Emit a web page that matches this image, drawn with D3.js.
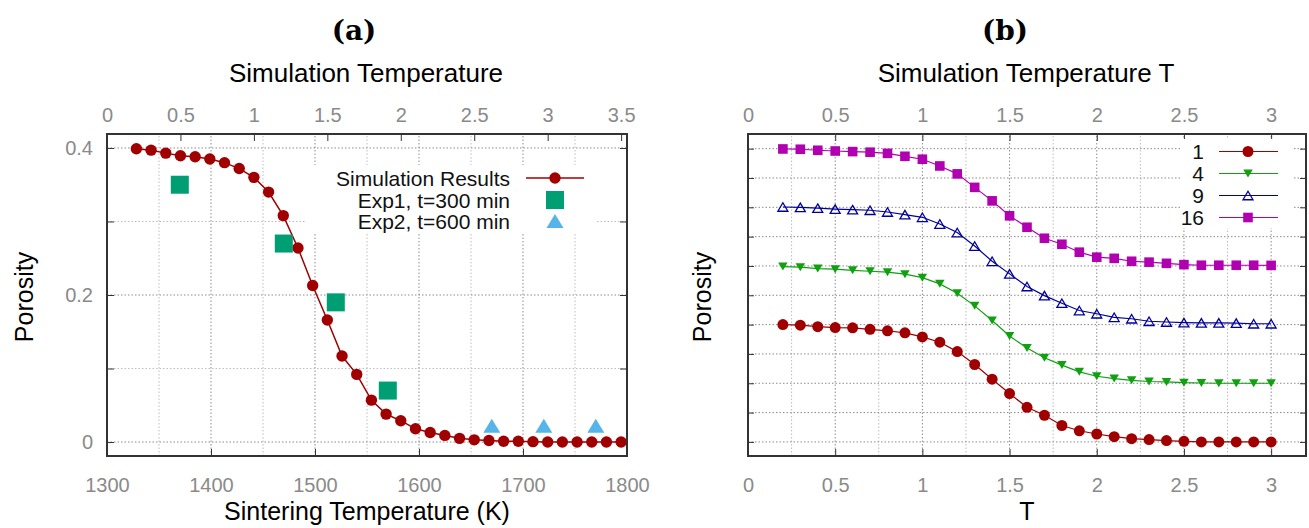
<!DOCTYPE html>
<html>
<head>
<meta charset="utf-8">
<script src="https://cdn.jsdelivr.net/npm/d3@7/dist/d3.min.js"></script>
<style>
  body { margin: 0; background: #fff; }
  text { font-family: "Liberation Sans", Arial, sans-serif; }
</style>
</head>
<body>
<svg id="chart" width="1309" height="528"></svg>
<script>
// ---- panel (a) data ----
var simTemp = [0.2,0.3,0.4,0.5,0.6,0.7,0.8,0.9,1.0,1.1,1.2,1.3,1.4,1.5,1.6,1.7,1.8,1.9,2.0,2.1,2.2,2.3,2.4,2.5,2.6,2.7,2.8,2.9,3.0,3.1,3.2,3.3,3.4,3.5];
var simPorosity = [0.399,0.397,0.393,0.3895,0.388,0.385,0.380,0.372,0.360,0.340,0.308,0.264,0.213,0.166,0.117,0.092,0.057,0.038,0.029,0.018,0.013,0.009,0.005,0.003,0.002,0.001,0.001,0.0005,0,0,0,0,0,0];
var exp1Temp = [1370,1470,1520,1570];
var exp1Porosity = [0.35,0.27,0.19,0.07];
var exp2Temp = [1670,1720,1770];
var exp2Porosity = [0.022,0.022,0.022];
var legendA = ["Simulation Results","Exp1, t=300 min","Exp2, t=600 min"];
var ticksK = [1300,1400,1500,1600,1700,1800];
var ticksSimA = [0,0.5,1,1.5,2,2.5,3,3.5];
var ticksPorA = [0,0.2,0.4];

// ---- panel (b) data ----
var tempB = [0.2,0.3,0.4,0.5,0.6,0.7,0.8,0.9,1.0,1.1,1.2,1.3,1.4,1.5,1.6,1.7,1.8,1.9,2.0,2.1,2.2,2.3,2.4,2.5,2.6,2.7,2.8,2.9,3.0];
var por1  = [0.400,0.398,0.393,0.390,0.389,0.384,0.379,0.372,0.358,0.340,0.308,0.264,0.214,0.165,0.118,0.091,0.056,0.038,0.027,0.018,0.011,0.008,0.0045,0.002,0,0,0,0,0];
var por4  = [0.398,0.396,0.391,0.389,0.385,0.382,0.379,0.372,0.360,0.339,0.307,0.264,0.214,0.161,0.120,0.087,0.062,0.039,0.024,0.016,0.010,0.006,0.0045,0.002,0.001,0,0,0,0];
var por9  = [0.401,0.400,0.397,0.394,0.392,0.390,0.384,0.375,0.366,0.343,0.314,0.268,0.216,0.173,0.130,0.099,0.073,0.048,0.037,0.025,0.020,0.0115,0.009,0.007,0.006,0.006,0.005,0.003,0.003];
var por16 = [0.399,0.398,0.3945,0.392,0.390,0.388,0.384,0.374,0.364,0.341,0.314,0.268,0.222,0.171,0.132,0.0945,0.074,0.047,0.030,0.026,0.016,0.013,0.009,0.0045,0.0025,0.0025,0.0025,0.0025,0.002];
var seriesNames = ["1","4","9","16"];
var seriesShift = [0,0.2,0.4,0.6];
var ticksTB = [0,0.5,1,1.5,2,2.5,3];

var svg = d3.select("#chart");
var tickGray = "#8a8a8a";
var tickFont = "20px";

function triPath(w, h, down) {
  // triangle centred on its bounding box
  var s = down ? -1 : 1;
  return "M0," + (-s*h/2) + "L" + (w/2) + "," + (s*h/2) + "L" + (-w/2) + "," + (s*h/2) + "Z";
}

function frameAndGrid(g, x, y, xGrid, yGrid, majorX, majorY) {
  var x0 = x.range()[0], x1 = x.range()[1], y0 = y.range()[0], y1 = y.range()[1];
  g.selectAll(".gx").data(xGrid).enter().append("line")
    .attr("x1", d => x(d)).attr("x2", d => x(d)).attr("y1", y0).attr("y2", y1)
    .attr("stroke", d => majorX(d) ? "#8c8c8c" : "#bdbdbd").attr("stroke-width", 1)
    .attr("stroke-dasharray", "1.5,2");
  g.selectAll(".gy").data(yGrid).enter().append("line")
    .attr("y1", d => y(d)).attr("y2", d => y(d)).attr("x1", x0).attr("x2", x1)
    .attr("stroke", d => majorY(d) ? "#8c8c8c" : "#bdbdbd").attr("stroke-width", 1)
    .attr("stroke-dasharray", "1.5,2");
}

function drawFrame(g, x, y) {
  var x0 = x.range()[0], x1 = x.range()[1], y0 = y.range()[0], y1 = y.range()[1];
  g.append("rect").attr("x", x0).attr("y", y1).attr("width", x1 - x0).attr("height", y0 - y1)
    .attr("fill", "none").attr("stroke", "#333").attr("stroke-width", 2);
}

function styleAxis(s) {
  s.select(".domain").remove();
  s.selectAll("text").attr("fill", tickGray).style("font-size", tickFont);
  s.selectAll("line").attr("stroke", "#333");
}

// ================= panel (a) =================
var ga = svg.append("g");
var xa = d3.scaleLinear().domain([1300, 1800]).range([107, 627]);
var xaTop = d3.scaleLinear().domain([0, 3.54]).range([107, 627]);
var ya = d3.scaleLinear().domain([-0.019, 0.419]).range([456, 134]);

frameAndGrid(ga, xa, ya, d3.range(1300, 1801, 50), [0, 0.1, 0.2, 0.3, 0.4],
  d => d % 100 === 0, d => Math.round(d * 10) % 2 === 0);

// inward ticks
ga.append("g").attr("transform", "translate(0,456)")
  .call(d3.axisBottom(xa).tickValues(ticksK).tickSizeInner(-7).tickSizeOuter(0).tickFormat(d3.format("d")).tickPadding(22))
  .call(styleAxis);
ga.append("g").attr("transform", "translate(0,134)")
  .call(d3.axisTop(xaTop).tickValues(ticksSimA).tickSizeInner(-7).tickSizeOuter(0).tickFormat(d3.format("")).tickPadding(12))
  .call(styleAxis);
ga.append("g").attr("transform", "translate(107,0)")
  .call(d3.axisLeft(ya).tickValues([0, 0.1, 0.2, 0.3, 0.4]).tickSizeInner(-7).tickSizeOuter(0)
    .tickFormat(d => ticksPorA.indexOf(d) >= 0 ? d3.format("")(d) : "").tickPadding(14))
  .call(styleAxis);
ga.append("g").attr("transform", "translate(627,0)")
  .call(d3.axisRight(ya).tickValues([0, 0.1, 0.2, 0.3, 0.4]).tickSizeInner(-7).tickSizeOuter(0).tickFormat(""))
  .call(styleAxis);

// legend box (opaque)
ga.append("rect").attr("x", 305).attr("y", 165).attr("width", 292).attr("height", 68).attr("fill", "#fff");

var simData = simTemp.map((t, i) => [t, simPorosity[i]]);
ga.append("path").datum(simData)
  .attr("fill", "none").attr("stroke", "#a00000").attr("stroke-width", 1.5)
  .attr("d", d3.line().x(d => xaTop(d[0])).y(d => ya(d[1])));
ga.selectAll(".sim").data(simData).enter().append("circle")
  .attr("cx", d => xaTop(d[0])).attr("cy", d => ya(d[1])).attr("r", 5.7).attr("fill", "#a00000");

ga.selectAll(".e1").data(exp1Temp).enter().append("rect")
  .attr("x", (d) => xa(d) - 9).attr("y", (d, i) => ya(exp1Porosity[i]) - 9)
  .attr("width", 18).attr("height", 18).attr("fill", "#009e73");
ga.selectAll(".e2").data(exp2Temp).enter().append("path")
  .attr("transform", (d, i) => "translate(" + xa(d) + "," + ya(exp2Porosity[i]) + ")")
  .attr("d", triPath(17, 14, false)).attr("fill", "#56b4e9");

// legend (a)
var legA = ga.append("g");
var legAy = [178, 200, 221];
legA.selectAll("text").data(legendA).enter().append("text")
  .attr("x", 510).attr("y", (d, i) => legAy[i]).attr("text-anchor", "end")
  .attr("dominant-baseline", "central").style("font-size", "21px").attr("fill", "#111").text(d => d);
legA.append("line").attr("x1", 526).attr("x2", 584).attr("y1", legAy[0]).attr("y2", legAy[0])
  .attr("stroke", "#a00000").attr("stroke-width", 1.5);
legA.append("circle").attr("cx", 555).attr("cy", legAy[0]).attr("r", 5.7).attr("fill", "#a00000");
legA.append("rect").attr("x", 546).attr("y", legAy[1] - 9).attr("width", 18).attr("height", 18).attr("fill", "#009e73");
legA.append("path").attr("transform", "translate(555," + legAy[2] + ")").attr("d", triPath(17, 14, false)).attr("fill", "#56b4e9");

drawFrame(ga, xa, ya);

// labels (a)
svg.append("text").attr("x", 354).attr("y", 30).attr("text-anchor", "middle").attr("dominant-baseline", "central")
  .style("font-family", "'DejaVu Serif', serif").style("font-weight", "bold").style("font-size", "28px").text("(a)");
svg.append("text").attr("x", 366).attr("y", 73).attr("text-anchor", "middle").attr("dominant-baseline", "central")
  .style("font-size", "26px").text("Simulation Temperature");
svg.append("text").attr("x", 367).attr("y", 511).attr("text-anchor", "middle").attr("dominant-baseline", "central")
  .style("font-size", "25px").text("Sintering Temperature (K)");
svg.append("text").attr("transform", "translate(24,297) rotate(-90)").attr("text-anchor", "middle")
  .attr("dominant-baseline", "central").style("font-size", "25px").text("Porosity");

// ================= panel (b) =================
var gb = svg.append("g");
var xb = d3.scaleLinear().domain([0, 3.2]).range([748, 1306]);
var yb = d3.scaleLinear().domain([-0.048, 1.05]).range([456, 134]);
var gridYB = [0,0.1,0.2,0.3,0.4,0.5,0.6,0.7,0.8,0.9,1.0];

frameAndGrid(gb, xb, yb, [0.25,0.5,0.75,1,1.25,1.5,1.75,2,2.25,2.5,2.75,3], gridYB,
  d => Math.round(d * 4) % 2 === 0, d => true);

gb.append("g").attr("transform", "translate(0,456)")
  .call(d3.axisBottom(xb).tickValues(ticksTB).tickSizeInner(-7).tickSizeOuter(0).tickFormat(d3.format("")).tickPadding(22))
  .call(styleAxis);
gb.append("g").attr("transform", "translate(0,134)")
  .call(d3.axisTop(xb).tickValues(ticksTB).tickSizeInner(-7).tickSizeOuter(0).tickFormat(d3.format("")).tickPadding(12))
  .call(styleAxis);
gb.append("g").attr("transform", "translate(748,0)")
  .call(d3.axisLeft(yb).tickValues(gridYB).tickSizeInner(-6).tickSizeOuter(0).tickFormat(""))
  .call(styleAxis);
gb.append("g").attr("transform", "translate(1306,0)")
  .call(d3.axisRight(yb).tickValues(gridYB).tickSizeInner(-6).tickSizeOuter(0).tickFormat(""))
  .call(styleAxis);

// legend box (opaque)
gb.append("rect").attr("x", 1180).attr("y", 139).attr("width", 112).attr("height", 89).attr("fill", "#fff");

var seriesB = [por1, por4, por9, por16];
var colorsB = ["#a00000", "#10a010", "#00009a", "#b000b0"];

function drawMarker(sel, k) {
  if (k === 0) {
    sel.append("circle").attr("r", 5.5).attr("fill", colorsB[k]);
  } else if (k === 1) {
    sel.append("path").attr("d", triPath(9.5, 8, true)).attr("fill", colorsB[k]);
  } else if (k === 2) {
    sel.append("path").attr("d", triPath(10, 8.5, false)).attr("fill", "none")
      .attr("stroke", colorsB[k]).attr("stroke-width", 1.3);
  } else {
    sel.append("rect").attr("x", -4.8).attr("y", -4.8).attr("width", 9.6).attr("height", 9.6).attr("fill", colorsB[k]);
  }
}

seriesB.forEach(function(vals, k) {
  var pts = tempB.map((t, i) => [t, vals[i] + seriesShift[k]]);
  gb.append("path").datum(pts)
    .attr("fill", "none").attr("stroke", colorsB[k]).attr("stroke-width", 1.2)
    .attr("d", d3.line().x(d => xb(d[0])).y(d => yb(d[1])));
  gb.selectAll(".m" + k).data(pts).enter().append("g")
    .attr("transform", d => "translate(" + xb(d[0]) + "," + yb(d[1]) + ")")
    .each(function() { drawMarker(d3.select(this), k); });
});

// legend (b)
var legBy = [151.5, 173.5, 195.5, 217.5];
seriesNames.forEach(function(name, k) {
  gb.append("text").attr("x", 1204).attr("y", legBy[k]).attr("text-anchor", "end")
    .attr("dominant-baseline", "central").style("font-size", "21px").attr("fill", "#111").text(name);
  gb.append("line").attr("x1", 1219).attr("x2", 1278).attr("y1", legBy[k]).attr("y2", legBy[k])
    .attr("stroke", colorsB[k]).attr("stroke-width", 1.2);
  var m = gb.append("g").attr("transform", "translate(1248," + legBy[k] + ")");
  drawMarker(m, k);
});

drawFrame(gb, xb, yb);

svg.append("text").attr("x", 1005).attr("y", 30).attr("text-anchor", "middle").attr("dominant-baseline", "central")
  .style("font-family", "'DejaVu Serif', serif").style("font-weight", "bold").style("font-size", "28px").text("(b)");
svg.append("text").attr("x", 1026).attr("y", 73).attr("text-anchor", "middle").attr("dominant-baseline", "central")
  .style("font-size", "26px").text("Simulation Temperature T");
svg.append("text").attr("x", 1027).attr("y", 511).attr("text-anchor", "middle").attr("dominant-baseline", "central")
  .style("font-size", "25px").text("T");
svg.append("text").attr("transform", "translate(702,297) rotate(-90)").attr("text-anchor", "middle")
  .attr("dominant-baseline", "central").style("font-size", "25px").text("Porosity");
</script>
</body>
</html>
